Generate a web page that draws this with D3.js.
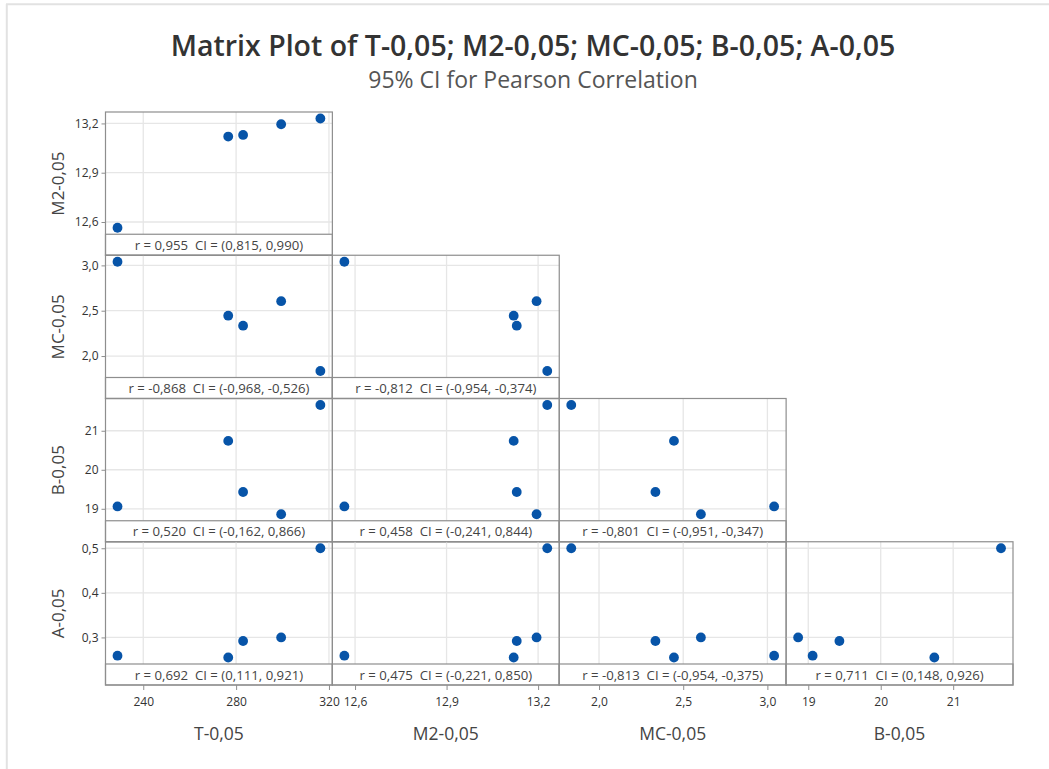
<!DOCTYPE html>
<html>
<head>
<meta charset="utf-8">
<script src="https://cdn.jsdelivr.net/npm/d3@7"></script>
<style>
  body { margin: 0; background: #fff; }
  svg { display: block; font-family: "Open Sans", "Noto Sans", sans-serif; }
  .strip { white-space: pre; }
</style>
</head>
<body>
<svg width="1049" height="769"></svg>
<script>
// Variables (in plot order) and their observed values
const varNames = ["T-0,05", "M2-0,05", "MC-0,05", "B-0,05", "A-0,05"];
const tVals = [228.9, 276.6, 283.0, 299.4, 316.3];
const m2Vals = [12.565, 13.12, 13.13, 13.195, 13.23];
const mcVals = [3.04, 2.445, 2.335, 2.605, 1.835];
const bVals = [19.06, 20.74, 19.43, 18.86, 21.66];
const aVals = [0.259, 0.255, 0.292, 0.300, 0.500];

// Tick values per variable
const tTicks = [240, 280, 320];
const m2Ticks = [12.6, 12.9, 13.2];
const mcTicks = [2.0, 2.5, 3.0];
const bTicks = [19, 20, 21];
const aTicks = [0.3, 0.4, 0.5];
const tickDecimals = [0, 1, 1, 0, 1];

// Correlations (lower triangle, row = y variable, col = x variable)
const pairRows = [1, 2, 2, 3, 3, 3, 4, 4, 4, 4];
const pairCols = [0, 0, 1, 0, 1, 2, 0, 1, 2, 3];
const rValues = [0.955, -0.868, -0.812, 0.520, 0.458, -0.801, 0.692, 0.475, -0.813, 0.711];
const ciLow = [0.815, -0.968, -0.954, -0.162, -0.241, -0.951, 0.111, -0.221, -0.954, 0.148];
const ciHigh = [0.990, -0.526, -0.374, 0.866, 0.844, -0.347, 0.921, 0.850, -0.375, 0.926];

const values = [tVals, m2Vals, mcVals, bVals, aVals];
const ticks = [tTicks, m2Ticks, mcTicks, bTicks, aTicks];

const svg = d3.select("svg");
const width = +svg.attr("width");

// frame lines of the screenshot
svg.append("line").attr("x1", 6).attr("x2", width).attr("y1", 4.3).attr("y2", 4.3)
    .attr("stroke", "#e2e2e2").attr("stroke-width", 2);
svg.append("line").attr("x1", 6.8).attr("x2", 6.8).attr("y1", 4).attr("y2", 769)
    .attr("stroke", "#e2e2e2").attr("stroke-width", 2);

// Title
svg.append("text").attr("x", 533).attr("y", 56).attr("text-anchor", "middle")
    .attr("font-size", 28.5).attr("font-weight", 600).attr("fill", "#333")
    .text("Matrix Plot of " + varNames.join("; "));
svg.append("text").attr("x", 533).attr("y", 88).attr("text-anchor", "middle")
    .attr("font-size", 23).attr("fill", "#555")
    .text("95% CI for Pearson Correlation");

// Layout of the 4x4 lower-triangle grid
const colEdge = d3.scaleLinear().domain([0, 4]).range([105.5, 1013]);
const rowEdge = d3.scaleLinear().domain([0, 4]).range([112, 685]);
const stripH = 21;
const padX = 12, padY = 6.5;

const fmt = (v, d) => d3.format("." + d + "f")(v).replace(".", ",").replace("\u2212", "-");
const fmt3 = v => fmt(v, 3);

// x scale for variable i (columns 0..3), y scale for variable j (rows 1..4)
function xScale(i) {
    return d3.scaleLinear().domain(d3.extent(values[i]))
        .range([colEdge(i) + padX, colEdge(i + 1) - padX]);
}
function yScale(j) {
    const r = j - 1;
    return d3.scaleLinear().domain(d3.extent(values[j]))
        .range([rowEdge(r + 1) - stripH - padY, rowEdge(r) + padY]);
}

const gridColor = "#e6e6e6";
const borderColor = "#8e8e8e";

for (let j = 1; j < 5; j++) {
    for (let i = 0; i < j; i++) {
        const x = xScale(i), y = yScale(j);
        const x0 = colEdge(i), x1 = colEdge(i + 1);
        const y0 = rowEdge(j - 1), y1 = rowEdge(j);
        const g = svg.append("g");

        // gridlines
        g.selectAll(".vg").data(ticks[i]).enter().append("line")
            .attr("x1", d => x(d)).attr("x2", d => x(d))
            .attr("y1", y0).attr("y2", y1 - stripH)
            .attr("stroke", gridColor).attr("stroke-width", 1.3);
        g.selectAll(".hg").data(ticks[j]).enter().append("line")
            .attr("x1", x0).attr("x2", x1)
            .attr("y1", d => y(d)).attr("y2", d => y(d))
            .attr("stroke", gridColor).attr("stroke-width", 1.3);

        // points
        g.selectAll("circle").data(values[i].map((v, k) => [v, values[j][k]]))
            .enter().append("circle")
            .attr("cx", d => x(d[0])).attr("cy", d => y(d[1]))
            .attr("r", 4.9).attr("fill", "#0754a8");

        // annotation strip
        g.append("rect").attr("x", x0).attr("y", y1 - stripH)
            .attr("width", x1 - x0).attr("height", stripH)
            .attr("fill", "#fff").attr("stroke", borderColor).attr("stroke-width", 1.2);
        const p = pairRows.findIndex((rr, k) => rr === j && pairCols[k] === i);
        g.append("text").attr("class", "strip").attr("x", (x0 + x1) / 2).attr("y", y1 - 5.5)
            .attr("text-anchor", "middle").attr("font-size", 13.2).attr("fill", "#444")
            .text("r = " + fmt3(rValues[p]) + "  CI = (" + fmt3(ciLow[p]) + ", " + fmt3(ciHigh[p]) + ")");

        // panel border
        g.append("rect").attr("x", x0).attr("y", y0)
            .attr("width", x1 - x0).attr("height", y1 - y0)
            .attr("fill", "none").attr("stroke", borderColor).attr("stroke-width", 1.2);

        // left axis
        if (i === 0) {
            const ax = svg.append("g").attr("transform", "translate(" + x0 + ",0)")
                .call(d3.axisLeft(y).tickValues(ticks[j]).tickSize(4).tickPadding(3)
                    .tickFormat(d => fmt(d, tickDecimals[j])));
            ax.select(".domain").remove();
            ax.selectAll("line").attr("stroke", borderColor);
            ax.selectAll("text").attr("font-size", 12).attr("fill", "#333")
                .attr("font-family", "'Open Sans', sans-serif");
            svg.append("text")
                .attr("transform", "translate(64," + (y0 + y1) / 2 + ") rotate(-90)")
                .attr("text-anchor", "middle").attr("font-size", 17).attr("fill", "#444")
                .text(varNames[j]);
        }
        // bottom axis
        if (j === 4) {
            const ax = svg.append("g").attr("transform", "translate(0," + y1 + ")")
                .call(d3.axisBottom(x).tickValues(ticks[i]).tickSize(5).tickPadding(7)
                    .tickFormat(d => fmt(d, tickDecimals[i])));
            ax.select(".domain").remove();
            ax.selectAll("line").attr("stroke", borderColor);
            ax.selectAll("text").attr("font-size", 12).attr("fill", "#333")
                .attr("font-family", "'Open Sans', sans-serif");
            svg.append("text").attr("x", (x0 + x1) / 2).attr("y", 740)
                .attr("text-anchor", "middle").attr("font-size", 17.5).attr("fill", "#444")
                .text(varNames[i]);
        }
    }
}
</script>
</body>
</html>
